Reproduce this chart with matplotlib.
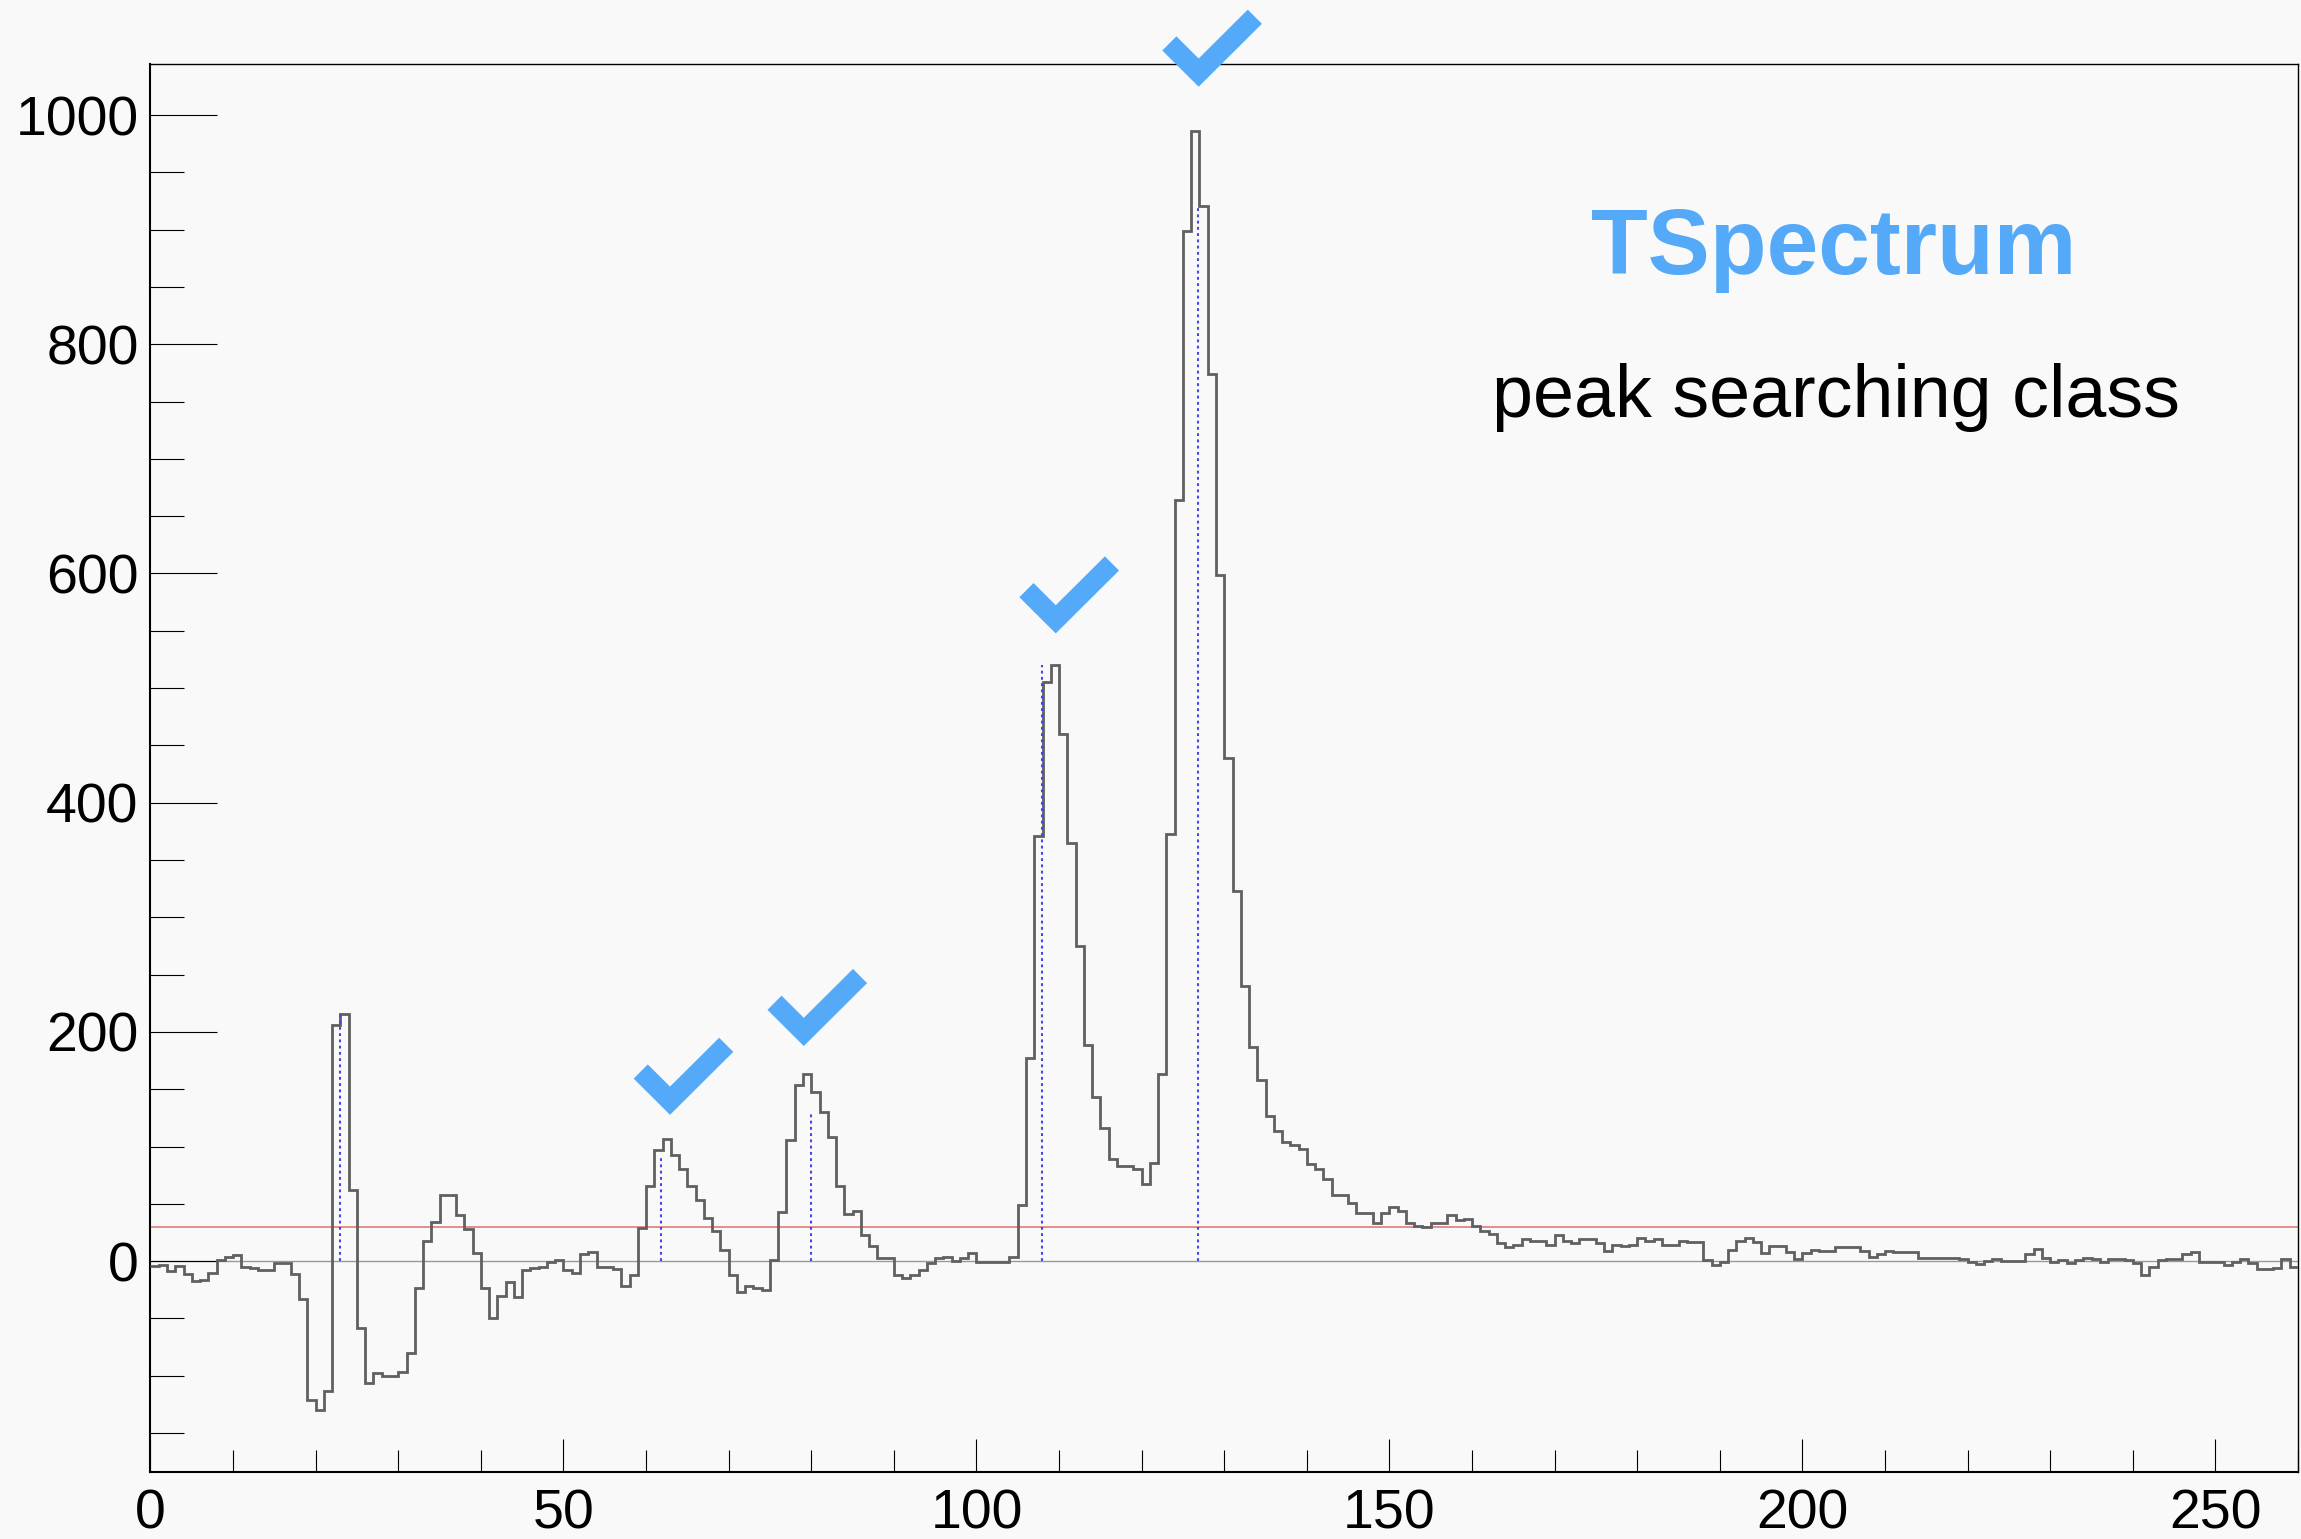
import numpy as np
import matplotlib
matplotlib.use('Agg')
import matplotlib.pyplot as plt
import matplotlib.transforms as mtransforms
from matplotlib.ticker import MultipleLocator

plt.rcParams['font.family'] = ['Liberation Sans', 'DejaVu Sans']

bin_edges = np.arange(0, 261, 1)
counts = [
    -4, -3, -9, -4, -11, -17, -16, -10, 1, 4,
    5, -5, -6, -8, -8, -1.5, -1.5, -11, -33, -121,
    -130, -113, 206, 216, 62, -58, -106, -98, -100, -100,
    -97, -80, -23, 18, 34, 58, 58, 40, 28, 7,
    -23, -50, -30, -18, -31, -8, -6, -5, -1, 1,
    -8, -10, 6, 8, -5, -5.5, -7, -22, -12, 29,
    66, 97, 107, 93, 80, 66, 53, 38, 26, 10,
    -12, -27, -22, -23, -25, 1, 43, 106, 154, 163,
    148, 130, 108, 66, 41, 44, 23, 13, 3, 3,
    -12, -15, -12, -8, -2, 3, 4, 0, 3, 7,
    -1, -1, -1, -1, 4, 49, 177, 371, 505, 520,
    460, 365, 275, 189, 143, 116, 89, 83, 83, 80,
    67, 86, 163, 373, 664, 899, 986, 921, 774, 599,
    439, 323, 240, 187, 158, 127, 114, 104, 101, 98,
    85, 80, 72, 58, 58, 51, 42, 42, 33, 42,
    47, 44, 33, 31, 30, 33, 33, 40, 36, 37,
    31, 26, 24, 16, 12, 14, 19, 18, 18, 14,
    23, 18, 16, 19, 19, 16, 9, 14, 13, 14,
    20, 18, 19, 14, 14, 18, 17, 17, 1, -3,
    -1, 10, 18, 20, 17, 7, 13, 13, 8, 1.5,
    7, 10, 9, 9, 12, 12, 12, 9, 4, 6,
    9, 8, 8, 8, 3, 3, 3, 3, 3, 1.5,
    -0.5, -2.5, 0.5, 1.7, 0.5, 0.5, 0.5, 6, 11, 3,
    -0.5, 1, -2, 1, 3, 1.5, -0.5, 1.7, 1.7, 1,
    -2, -12, -5.5, 1, 1.7, 1.7, 6, 7.6, -0.5, -0.5,
    -0.5, -3.5, -0.5, 1.5, -2, -7, -7, -6, 1.5, -5.5,
]
peak_x = [22.9, 61.8, 80.0, 107.9, 126.8]
peak_y = [216, 93, 130, 520, 919]
check_x = [62.9, 79.1, 109.6, 126.9]
check_y = [140, 200, 560, 1037]
threshold = 30

bg = '#f9f9f9'
fig = plt.figure(figsize=(23.01, 15.39), dpi=100, facecolor=bg)
ax = fig.add_axes([0.0654, 0.0435, 0.9333, 0.9149])
ax.set_facecolor(bg)

ax.axhline(0, color='#999999', lw=1.0, zorder=1)
ax.axhline(threshold, color='#e07070', lw=1.1, zorder=1)
ax.stairs(counts, bin_edges, baseline=None, color='#606060', lw=2.0, zorder=3)
ax.vlines(peak_x, 0, peak_y, colors='#4646e8', linestyles=(0, (1.35, 1.65)),
          lw=1.5, zorder=4)

for cx, cy in zip(check_x, check_y):
    tr = fig.dpi_scale_trans + mtransforms.ScaledTranslation(cx, cy, ax.transData)
    ax.plot([-0.293, 0, 0.562], [0.292, 0, 0.559], transform=tr,
            color='#54a9f8', lw=14.4, solid_joinstyle='miter',
            solid_capstyle='butt', clip_on=False, zorder=5)

ax.set_xlim(0, 260)
ax.set_ylim(-184, 1044.5)

ax.xaxis.set_major_locator(MultipleLocator(50))
ax.xaxis.set_minor_locator(MultipleLocator(10))
ax.yaxis.set_major_locator(MultipleLocator(200))
ax.yaxis.set_minor_locator(MultipleLocator(50))
ax.tick_params(which='both', direction='in', top=False, right=False, color='black')
ax.tick_params(axis='y', which='major', length=48, width=0.8, labelsize=40, pad=8.6)
ax.tick_params(axis='y', which='minor', length=24.5, width=0.8)
ax.tick_params(axis='x', which='major', length=23.8, width=0.8, labelsize=40, pad=12)
ax.tick_params(axis='x', which='minor', length=15.8, width=0.8)

for side in ['left', 'bottom']:
    ax.spines[side].set_linewidth(1.5)
for side in ['top', 'right']:
    ax.spines[side].set_linewidth(1.0)

fig.text(0.797, 1 - 274 / 1539, 'TSpectrum', ha='center', va='baseline',
         fontsize=67, fontweight='bold', color='#54a9f8')
fig.text(0.798, 1 - 417 / 1539, 'peak searching class', ha='center',
         va='baseline', fontsize=53, color='black')

fig.savefig('out.png', dpi=100, facecolor=bg)
